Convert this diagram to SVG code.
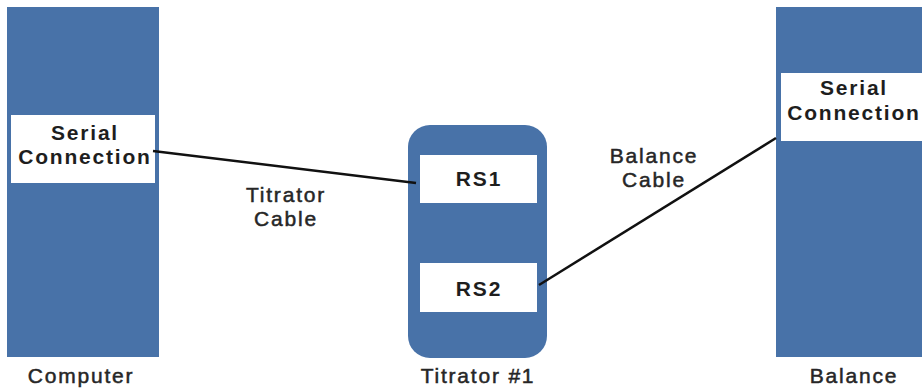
<svg xmlns="http://www.w3.org/2000/svg" width="922" height="391" viewBox="0 0 922 391">
  <style>
    .dev { fill: #4872a8; }
    .port { fill: #ffffff; }
    .lbl { font-family: "Liberation Sans", Arial, sans-serif; font-size: 21px; letter-spacing: 1.8px; fill: #262626; stroke: #262626; stroke-width: 0.5px; text-anchor: middle; }
    .port-lbl { font-family: "Liberation Sans", Arial, sans-serif; font-size: 21px; font-weight: 700; letter-spacing: 1.8px; fill: #1e1e1e; text-anchor: middle; }
    .cable { stroke: #111; stroke-width: 2.5; fill: none; }
  </style>

  <g id="computer">
    <rect class="dev" x="7" y="7" width="152" height="350"/>
    <rect class="port" x="11" y="115" width="144" height="68"/>
    <text class="port-lbl" x="85" y="140">Serial</text>
    <text class="port-lbl" x="85" y="164">Connection</text>
    <text class="lbl" x="81" y="383">Computer</text>
  </g>

  <g id="titrator">
    <rect class="dev" x="408" y="125" width="139" height="233" rx="22"/>
    <rect class="port" x="420" y="155" width="117" height="48"/>
    <text class="port-lbl" x="479" y="186">RS1</text>
    <rect class="port" x="420" y="263" width="117" height="49"/>
    <text class="port-lbl" x="479" y="296">RS2</text>
    <text class="lbl" x="478" y="383">Titrator #1</text>
  </g>

  <g id="balance">
    <rect class="dev" x="776" y="7" width="150" height="350"/>
    <rect class="port" x="781" y="73" width="145" height="68"/>
    <text class="port-lbl" x="854" y="95">Serial</text>
    <text class="port-lbl" x="854" y="120">Connection</text>
    <text class="lbl" x="854" y="383">Balance</text>
  </g>

  <g id="connectors">
    <line class="cable" x1="153" y1="151" x2="416" y2="183"/>
    <line class="cable" x1="539" y1="285" x2="776" y2="138"/>
    <text class="lbl" x="286" y="202">Titrator</text>
    <text class="lbl" x="286" y="226">Cable</text>
    <text class="lbl" x="654" y="163">Balance</text>
    <text class="lbl" x="654" y="187">Cable</text>
  </g>
</svg>
